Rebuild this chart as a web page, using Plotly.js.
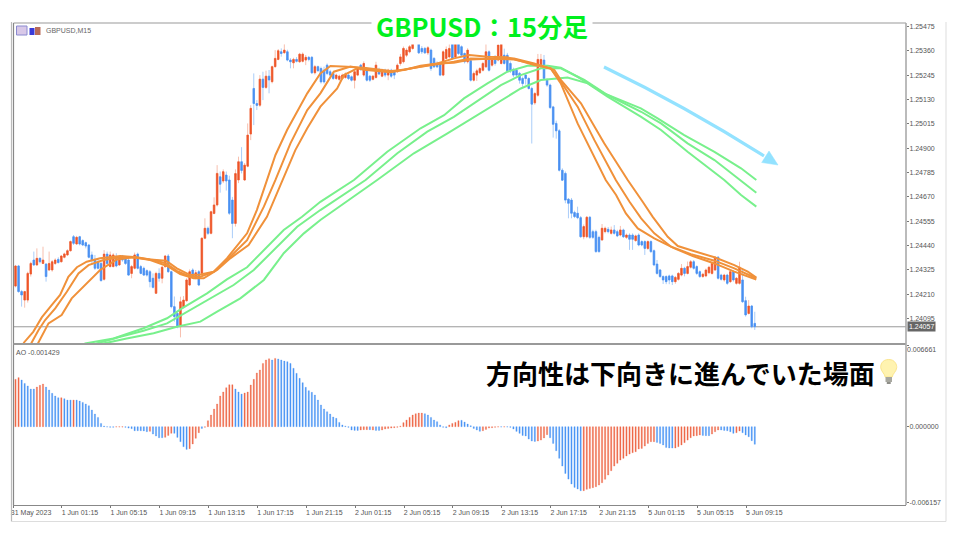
<!DOCTYPE html>
<html><head><meta charset="utf-8">
<script src="https://cdn.plot.ly/plotly-3.0.1.min.js"></script>
<style>html,body{margin:0;padding:0;background:#fff}#c{width:960px;height:540px}</style>
</head><body><div id="c"></div>
<script>
// Prices are stored in points (0.00001) above 1.24000; AO in units of 0.00001.
const PRICE_BASE = 1.24, POINT = 0.00001;
const barIndex = Array.from({length:243},(_,i)=>i);
const opensPts = [249,344,223,183,183,306,372,349,380,356,
353,325,325,356,375,364,385,396,416,482,
448,482,464,454,443,396,375,364,356,281,
400,341,341,388,349,391,380,372,309,333,
400,341,333,322,317,286,215,309,286,341,
391,317,152,120,57,152,180,254,325,286,
317,309,475,522,498,592,632,765,745,773,
750,655,545,750,836,750,815,967,1182,1111,
1103,1226,1187,1240,1214,1285,1319,1355,1351,1355,
1316,1303,1319,1308,1310,1316,1329,1329,1256,1285,
1276,1268,1292,1261,1253,1229,1225,1229,1234,1245,
1237,1221,1245,1292,1245,1276,1240,1225,1234,1272,
1240,1268,1245,1268,1261,1261,1300,1308,1339,1355,
1371,1402,1410,1371,1371,1350,1363,1324,1300,1300,
1245,1324,1331,1407,1331,1407,1379,1347,1308,1313,
1221,1245,1256,1268,1284,1355,1292,1331,1316,1300,
1339,1339,1300,1272,1268,1253,1229,1245,1229,1182,
1114,1150,1284,1316,1221,1198,1095,1017,982,796,
781,659,655,596,593,572,482,482,574,506,
506,479,467,506,517,498,514,506,490,514,
479,490,490,464,490,459,459,427,459,416,
353,325,294,294,297,297,270,281,301,333,
309,338,364,341,317,294,297,312,309,325,
385,301,278,301,270,317,262,262,278,180,
120,155,73];
const closesPts = [344,223,207,223,309,356,349,380,364,372,
294,356,364,372,360,391,401,416,459,451,
479,448,443,438,385,372,333,333,275,400,
356,396,396,344,380,372,356,301,341,396,
333,309,301,301,270,243,309,286,338,391,
317,152,105,57,175,183,278,317,294,312,
254,475,522,498,600,632,781,730,789,745,
593,545,780,836,795,820,962,1088,1111,1102,
1226,1187,1240,1222,1285,1324,1360,1347,1363,1316,
1308,1319,1310,1344,1344,1329,1319,1256,1285,1266,
1213,1213,1253,1245,1229,1245,1240,1245,1250,1229,
1221,1261,1276,1272,1300,1221,1221,1240,1292,1250,
1268,1245,1268,1240,1245,1292,1331,1371,1363,1379,
1402,1410,1350,1355,1350,1374,1276,1284,1284,1245,
1355,1366,1371,1324,1407,1347,1339,1308,1363,1221,
1253,1265,1276,1300,1355,1268,1316,1300,1387,1394,
1300,1265,1268,1245,1245,1221,1205,1229,1182,1108,
1158,1319,1319,1229,1198,1092,1013,982,796,749,
655,640,593,577,572,482,530,574,479,479,
412,412,522,522,506,514,498,486,514,482,
490,470,470,486,443,443,427,459,412,349,
309,294,278,270,278,270,290,309,333,309,
341,364,333,309,294,305,325,338,356,385,
286,281,301,262,317,278,286,338,175,113,
155,57,57];
const highsPts = [349,349,231,227,317,364,412,427,385,435,
356,412,372,380,385,396,407,423,464,490,
486,486,470,459,448,412,396,380,364,419,
412,412,404,404,396,396,388,380,349,407,
407,349,341,328,325,309,317,333,344,396,
400,322,200,128,199,202,286,328,333,325,
325,479,569,530,605,668,820,790,800,790,
770,670,800,860,905,830,1017,1103,1253,1127,
1245,1261,1266,1269,1290,1363,1368,1371,1390,1365,
1325,1327,1330,1350,1352,1340,1335,1335,1293,1290,
1285,1285,1300,1270,1260,1252,1247,1252,1258,1252,
1243,1267,1283,1298,1310,1283,1245,1246,1308,1280,
1275,1275,1275,1275,1268,1300,1345,1380,1372,1387,
1412,1415,1418,1382,1378,1382,1370,1330,1310,1308,
1362,1380,1400,1412,1412,1412,1385,1352,1372,1320,
1262,1275,1283,1308,1402,1362,1325,1340,1402,1404,
1370,1350,1310,1280,1275,1260,1238,1255,1235,1190,
1165,1345,1345,1340,1230,1205,1100,1030,990,805,
790,665,665,605,624,580,540,580,580,515,
515,487,542,530,528,530,537,515,533,520,
497,498,498,492,498,465,465,465,465,422,
372,330,300,300,303,303,297,315,353,340,
365,372,372,347,323,312,332,345,362,391,
391,307,307,307,323,323,292,364,330,199,
183,160,128];
const lowsPts = [243,218,152,147,171,294,344,344,356,353,
270,320,317,349,356,360,380,391,412,443,
443,441,438,427,380,349,325,328,270,275,
349,338,338,338,344,364,349,297,286,328,
328,305,297,294,243,238,212,270,262,336,
312,144,81,50,7,144,175,249,286,281,
249,305,470,490,493,588,625,690,735,700,
585,475,530,735,781,745,810,938,1009,1080,
1095,1127,1180,1159,1206,1280,1315,1332,1345,1310,
1277,1277,1305,1303,1305,1292,1310,1250,1248,1260,
1205,1205,1245,1238,1222,1222,1218,1223,1228,1222,
1215,1182,1240,1265,1238,1215,1213,1220,1228,1245,
1235,1235,1221,1232,1226,1255,1290,1300,1330,1348,
1365,1395,1345,1345,1345,1340,1265,1278,1278,1240,
1240,1318,1325,1318,1325,1340,1333,1300,1300,1215,
1215,1217,1250,1262,1278,1262,1285,1290,1310,1295,
1295,1258,1255,1235,1238,1205,1190,1200,1177,922,
1105,1143,1278,1222,1190,1085,950,945,790,745,
640,569,569,570,565,477,470,475,472,472,
406,406,462,498,498,492,492,480,484,476,
472,420,420,458,437,437,396,420,405,343,
303,288,259,258,258,254,260,275,295,295,
304,332,327,302,288,288,291,305,303,320,
280,275,270,255,264,270,256,256,170,105,
115,50,42];

const orangeAIdx = [0.4,2.8,5.8,8.6,11.9,14.6,17.3,20.1,23.3,27.7,34.3,39.7,44.1,49.3,52.8,57.2,60.5,64.9,69.2,75.8,79,82.3,85.1,88.9,95.5,99.8,103.1,108.6,114,122.8,127.2,132.6,138.1,143.5,148.5,154.5,161,164.3,169.8,175.2,178.5,184,193.2,196.6,199.8,203.7,209.1,215.7,221.7,228.8,235.3,242.5];
const orangeAPts = [-85,-17,33,101,160,207,293,338,364,380,391,385,375,369,333,301,304,317,380,498,608,750,868,986,1159,1253,1288,1285,1280,1264,1269,1289,1300,1324,1340,1332,1329,1316,1292,1277,1206,1017,750,679,592,521,474,427,391,356,317,280];
const orangeBIdx = [3.1,5.3,7.5,9.7,13,16.8,20.6,23.9,28.8,35.3,39.7,45.2,49.3,52.8,57.2,60.5,64.9,69.2,75.8,81.3,85.1,90,95.5,99.8,104.2,109.7,114,122.8,132.6,143.5,149,156.7,163.2,169.8,175.2,178.5,184,189.5,196.5,201,204.8,209.1,214.6,221.1,228.8,235.3,242.5];
const orangeBPts = [-85,-17,41,89,144,222,309,348,372,388,383,372,356,321,293,293,317,372,466,624,750,923,1080,1159,1261,1285,1274,1261,1285,1308,1324,1322,1319,1297,1277,1214,1096,938,750,647,569,498,435,400,369,333,286];
const orangeCIdx = [5.3,7.5,10.8,15.1,18.4,23.3,27.7,33.2,38.6,44.1,49.6,53.9,58.3,61.6,66,70.3,76.3,82.3,87.3,91.6,95.5,99.8,105.3,107.5,111.9,114,122.8,132.6,138.1,143.5,149,156.7,163.2,169.8,176.4,178.5,185.1,192.7,200.4,205.3,208.6,213.5,216.8,221.7,228.8,235.3,239.7,242.5];
const orangeCPts = [-85,-17,73,112,191,262,325,375,385,372,344,306,286,286,325,380,443,576,742,891,994,1096,1182,1245,1277,1270,1258,1285,1300,1303,1319,1324,1324,1300,1269,1222,1112,923,750,647,576,482,438,416,385,348,317,289];
const greenAIdx = [16.8,22.8,32.1,41.9,49.6,54.5,62.7,69.2,75.8,82.3,87.8,93.8,99.8,110.8,121.7,132.6,140.3,146.8,154.5,161,167.6,174.2,178.5,184,192.7,204.7,210.2,218.9,228.8,237.5,242.5];
const greenAPts = [-85,-22,2,50,97,144,215,281,338,435,514,576,647,750,883,994,1056,1135,1206,1261,1289,1289,1280,1237,1159,1088,1041,962,883,805,750];
const greenBIdx = [20.6,26.6,34.3,41.9,49.6,56.1,64.9,71.4,78,85.6,92.2,99.8,114.6,125,134.8,143.5,150.1,158.9,165.4,172,178.5,186.2,193.8,204.8,211.3,220,228.8,237,242.5];
const greenBPts = [-85,-22,10,38,73,128,199,254,325,435,529,608,750,876,978,1048,1112,1198,1245,1277,1277,1222,1151,1072,1017,923,844,750,690];
const greenCIdx = [24,28.8,36.4,45.2,52.8,60.5,66,73.6,81.3,87.8,94.4,99.8,118.4,130.4,141.4,150.1,158.9,165.4,172,180.7,187.3,193.8,204.8,211.3,220,232,237.5,242.5];
const greenCPts = [-85,-22,2,26,57,81,128,191,278,404,498,561,750,876,970,1048,1127,1182,1222,1234,1206,1143,1048,986,883,750,679,624];

// Awesome Oscillator, units of 0.00001
const aoValues = [386,400,381,353,332,307,307,323,337,348,
323,299,272,250,236,236,228,217,217,217,
217,209,198,185,171,136,103,76,27,5,
-3,-5,-5,-3,-3,-3,-5,-11,-16,-33,
-33,-33,-35,-41,-38,-60,-76,-90,-90,-87,
-71,-54,-54,-87,-122,-163,-185,-179,-141,-95,
-49,-14,-5,49,95,144,185,250,283,318,
342,342,307,283,266,275,283,340,386,438,
462,516,544,554,544,557,552,544,535,530,
516,476,435,394,359,321,294,280,258,217,
177,144,122,103,79,68,35,14,5,-5,
-27,-30,-30,-27,-24,-24,-24,-27,-30,-30,
-27,-19,-14,-11,-8,-5,5,33,54,76,
95,106,111,111,106,95,76,54,41,14,
-5,-8,14,27,35,49,52,38,22,8,
-14,-27,-38,-33,-22,-11,-8,-5,-3,-3,
-3,-3,-5,-19,-38,-54,-71,-76,-101,-117,
-120,-117,-109,-92,-65,-90,-136,-196,-258,-321,
-381,-427,-467,-495,-508,-522,-522,-511,-503,-497,
-489,-476,-457,-429,-394,-359,-321,-299,-272,-258,
-239,-223,-212,-204,-182,-177,-158,-136,-122,-122,
-128,-136,-149,-169,-174,-174,-174,-163,-149,-130,
-109,-90,-76,-73,-68,-71,-73,-73,-60,-41,
-27,-27,-30,-33,-41,-54,-49,-35,-49,-68,
-82,-114,-143];
const aoDirs = ("RRBBBBBRRR"+"BBBBBRBBBR"+"BBBBBBBBBB"+"BBBRRRBBBB"+"BBBBRBBBBR"+
"RRBBBBBRRR"+"RBRRRRRRRR"+"RRBBBRRRRR"+"RRRRBRBBBB"+"BBBBBBBBBB"+
"BBBBBBBBBB"+"BBBRRRBRBB"+"RRRRRRRRRR"+"RRRRBBBBBB"+"BBRRRRBBBB"+
"BBBRRRRRRB"+"RBBBBBBBBB"+"BRRRRBBBBB"+"BBBBBBRRRR"+"RRRRRRRRRR"+
"RRRRRRRRRR"+"BBBBBBRRRR"+"RRRRRBBBRR"+"RBBBBBRRBB"+"BBB").split('');

const timeTickIndex = [0,16,32,48,64,80,96,112,128,144,160,176,192,208,224,240];
const timeTickLabels = ["31 May 2023","1 Jun 01:15","1 Jun 05:15","1 Jun 09:15","1 Jun 13:15","1 Jun 17:15","1 Jun 21:15","2 Jun 01:15","2 Jun 05:15","2 Jun 09:15","2 Jun 13:15","2 Jun 17:15","2 Jun 21:15","5 Jun 01:15","5 Jun 05:15","5 Jun 09:15"];
const priceTicks = [1.25475,1.25360,1.25245,1.25130,1.25015,1.24900,1.24785,1.24670,1.24555,1.24440,1.24325,1.24210,1.24095];
const priceTickLabels = ["1.25475","1.25360","1.25245","1.25130","1.25015","1.24900","1.24785","1.24670","1.24555","1.24440","1.24325","1.24210","1.24095"];
const lastPrice = 1.24057;
const aoTop = 0.006661, aoBottom = -0.006157, aoLast = "-0.001429";

const price = a => a.map(p => +(PRICE_BASE + p*POINT).toFixed(5));
const RED='#EE5528', BLUE='#4A90F2', REDPALE='#F7BFAE', BLUEPALE='#AACDF9';
const ORANGE='#F0913A', GREEN='#78F08C';
const px = x => x/960, py = y => 1-y/540;
const pth = s => s.replace(/(-?[\d.]+),(-?[\d.]+)/g,(m,x,y)=>px(+x)+','+py(+y));

const O=price(opensPts),H=price(highsPts),L=price(lowsPts),C=price(closesPts);
const bodyHi=O.map((o,i)=>Math.max(o,C[i])), bodyLo=O.map((o,i)=>Math.min(o,C[i]));
const line=(idx,pts,color)=>({type:'scatter',mode:'lines',x:idx,y:price(pts),xaxis:'x',yaxis:'y',
  line:{color,width:2},hoverinfo:'skip',showlegend:false});
const aoColors=aoDirs.map(d=>d==='R'?'#EF6A4A':'#4C96F5');

const traces=[
 {type:'candlestick',x:barIndex,open:O,high:H,low:L,close:C,xaxis:'x',yaxis:'y',showlegend:false,hoverinfo:'skip',
  increasing:{line:{color:REDPALE,width:1},fillcolor:RED},decreasing:{line:{color:BLUEPALE,width:1},fillcolor:BLUE}},
 {type:'candlestick',x:barIndex,open:O,high:bodyHi,low:bodyLo,close:C,xaxis:'x',yaxis:'y',showlegend:false,hoverinfo:'skip',
  increasing:{line:{color:RED,width:0.6},fillcolor:RED},decreasing:{line:{color:BLUE,width:0.6},fillcolor:BLUE}},
 line(greenCIdx,greenCPts,GREEN),line(greenBIdx,greenBPts,GREEN),line(greenAIdx,greenAPts,GREEN),
 line(orangeCIdx,orangeCPts,ORANGE),line(orangeBIdx,orangeBPts,ORANGE),line(orangeAIdx,orangeAPts,ORANGE),
 {type:'bar',x:barIndex,y:aoValues.map(v=>v*POINT),xaxis:'x2',yaxis:'y2',width:0.4,showlegend:false,hoverinfo:'skip',
  marker:{color:aoColors,line:{width:0.3,color:aoColors}}},
 {type:'scatter',mode:'markers',x:[0],y:[0],xaxis:'x2',yaxis:'y3',marker:{opacity:0,size:1},showlegend:false,hoverinfo:'skip'}
];

const smallFont={family:'"Liberation Sans",sans-serif',size:7,color:'#555'};
const xRange=[-0.82,291.5];
const hline=(x0,y0,x1,y1,color,width,layer)=>({type:'line',xref:'paper',yref:'paper',x0:px(x0),y0:py(y0),x1:px(x1),y1:py(y1),line:{color,width},layer:layer||'above'});
const rect=(x0,y0,x1,y1,fill,lc)=>({type:'rect',xref:'paper',yref:'paper',x0:px(x0),y0:py(y0),x1:px(x1),y1:py(y1),fillcolor:fill,line:{color:lc||fill,width:lc?1:0},layer:'above'});
const path=(d,fill,lc,w)=>({type:'path',xref:'paper',yref:'paper',path:pth(d),fillcolor:fill||'rgba(0,0,0,0)',line:{color:lc||'rgba(0,0,0,0)',width:w||0},layer:'above'});

const layout={
 width:960,height:540,margin:{l:0,r:0,t:0,b:0,pad:0},paper_bgcolor:'#fff',plot_bgcolor:'#fff',showlegend:false,bargap:0,
 xaxis:{domain:[px(13),px(906)],range:xRange,anchor:'y',showticklabels:false,ticks:'',showgrid:false,zeroline:false,showline:false,rangeslider:{visible:false}},
 yaxis:{domain:[py(343.5),py(23)],range:[1.23978,1.25491],anchor:'x',side:'right',tickmode:'array',tickvals:priceTicks,ticktext:priceTickLabels,
  ticks:'outside',ticklen:2,tickcolor:'#777',tickwidth:1,tickfont:smallFont,ticklabelstandoff:-1,showgrid:false,zeroline:false,showline:false},
 xaxis2:{domain:[px(13),px(906)],range:xRange,anchor:'y2',tickmode:'array',tickvals:timeTickIndex.map(i=>i-0.8),ticktext:timeTickLabels,
  ticks:'outside',ticklen:2,tickcolor:'#777',tickwidth:1,tickfont:smallFont,ticklabelshift:18,ticklabelstandoff:-1,ticklabeloverflow:'allow',tickangle:0,
  showgrid:false,zeroline:false,showline:true,linecolor:'#888',linewidth:1},
 yaxis2:{domain:[py(505),py(345)],range:[-0.006384,aoTop],anchor:'x2',side:'right',tickmode:'array',tickvals:[aoTop,0,aoBottom],ticktext:['','0.000000','-0.006157'],
  ticks:'outside',ticklen:2,tickcolor:'#777',tickwidth:1,tickfont:smallFont,ticklabelstandoff:-1,showgrid:false,zeroline:false,showline:false},
 yaxis3:{domain:[py(505),py(345)],range:[-0.006384,aoTop],anchor:'x2',overlaying:'y2',side:'right',tickmode:'array',tickvals:[aoTop],ticktext:['0.006661'],
  ticks:'',ticklabelposition:'outside bottom',tickfont:smallFont,showgrid:false,zeroline:false,showline:false},
 shapes:[
  {type:'line',xref:'paper',yref:'y',x0:px(14),x1:px(906),y0:lastPrice,y1:lastPrice,line:{color:'#999',width:1},layer:'below'},
  hline(13.5,23,906,23,'#999',1.2),
  hline(13.5,23,13.5,505,'#888',1.2),
  hline(11.5,22,11.5,521.5,'#bbb',1.2),
  hline(13.5,344,906,344,'#999',2),
  hline(906,23,906,505,'#aaa',1.6),
  hline(946,22,946,521.5,'#ddd',1),
  hline(11.5,521.5,946,521.5,'#ddd',1.2),
  // chart-window icons
  rect(16.5,26,27,35,'#D8C8E8','#8A8AD0'),
  rect(29.5,28,34.5,35,'#3A3AD8'),
  rect(35,27,40.5,35,'#B86A58'),
  // trend arrow
  path('M604,67 Q 685,106 764,156','', '#93E2FF',3.2),
  path('M769,151 L761.7,162.5 L778,165 Z','#93E2FF','#93E2FF',0.5),
  // light bulb
  path('M888.7,359.5 C 882,359.5 880.5,365 880.7,367.5 C 881,371.5 885,374 885.2,377 L 892.2,377 C 892.4,374 896.5,371.5 896.7,367.5 C 896.9,365 895.2,359.5 888.7,359.5 Z','#FFF3B0','#FBE58C',1),
  rect(885.5,377,892,382,'#A8A8A0'),
  rect(886.8,382,890.7,384,'#8E8E88')
 ],
 annotations:[
  {xref:'paper',yref:'paper',x:px(481.8),y:py(24.5),xanchor:'center',yanchor:'middle',showarrow:false,text:'GBPUSD：15分足',
   width:218,height:36,bgcolor:'#fff',font:{family:'"Noto Sans CJK JP","Noto Sans",sans-serif',size:25.5,color:'#00F01E',weight:700}},
  {xref:'paper',yref:'paper',x:px(680),y:py(372),xanchor:'center',yanchor:'middle',showarrow:false,text:'方向性は下向きに進んでいた場面',
   font:{family:'"Noto Sans CJK JP",sans-serif',size:26,color:'#000',weight:700}},
  {xref:'paper',yref:'paper',x:px(43.5),y:py(30.5),xanchor:'left',yanchor:'middle',showarrow:false,text:'GBPUSD,M15',font:{family:'"Liberation Sans",sans-serif',size:7,color:'#666'}},
  {xref:'paper',yref:'paper',x:px(13.5),y:py(352),xanchor:'left',yanchor:'middle',showarrow:false,text:'AO '+aoLast,font:{family:'"Liberation Sans",sans-serif',size:7,color:'#555'}},
  {xref:'paper',yref:'y',x:px(907),y:lastPrice,xanchor:'left',yanchor:'middle',showarrow:false,text:'1.24057',bgcolor:'#666',borderpad:1,font:{family:'"Liberation Sans",sans-serif',size:7,color:'#fff'}}
 ]
};
Plotly.newPlot('c',traces,layout,{staticPlot:true,displayModeBar:false});
</script></body></html>
